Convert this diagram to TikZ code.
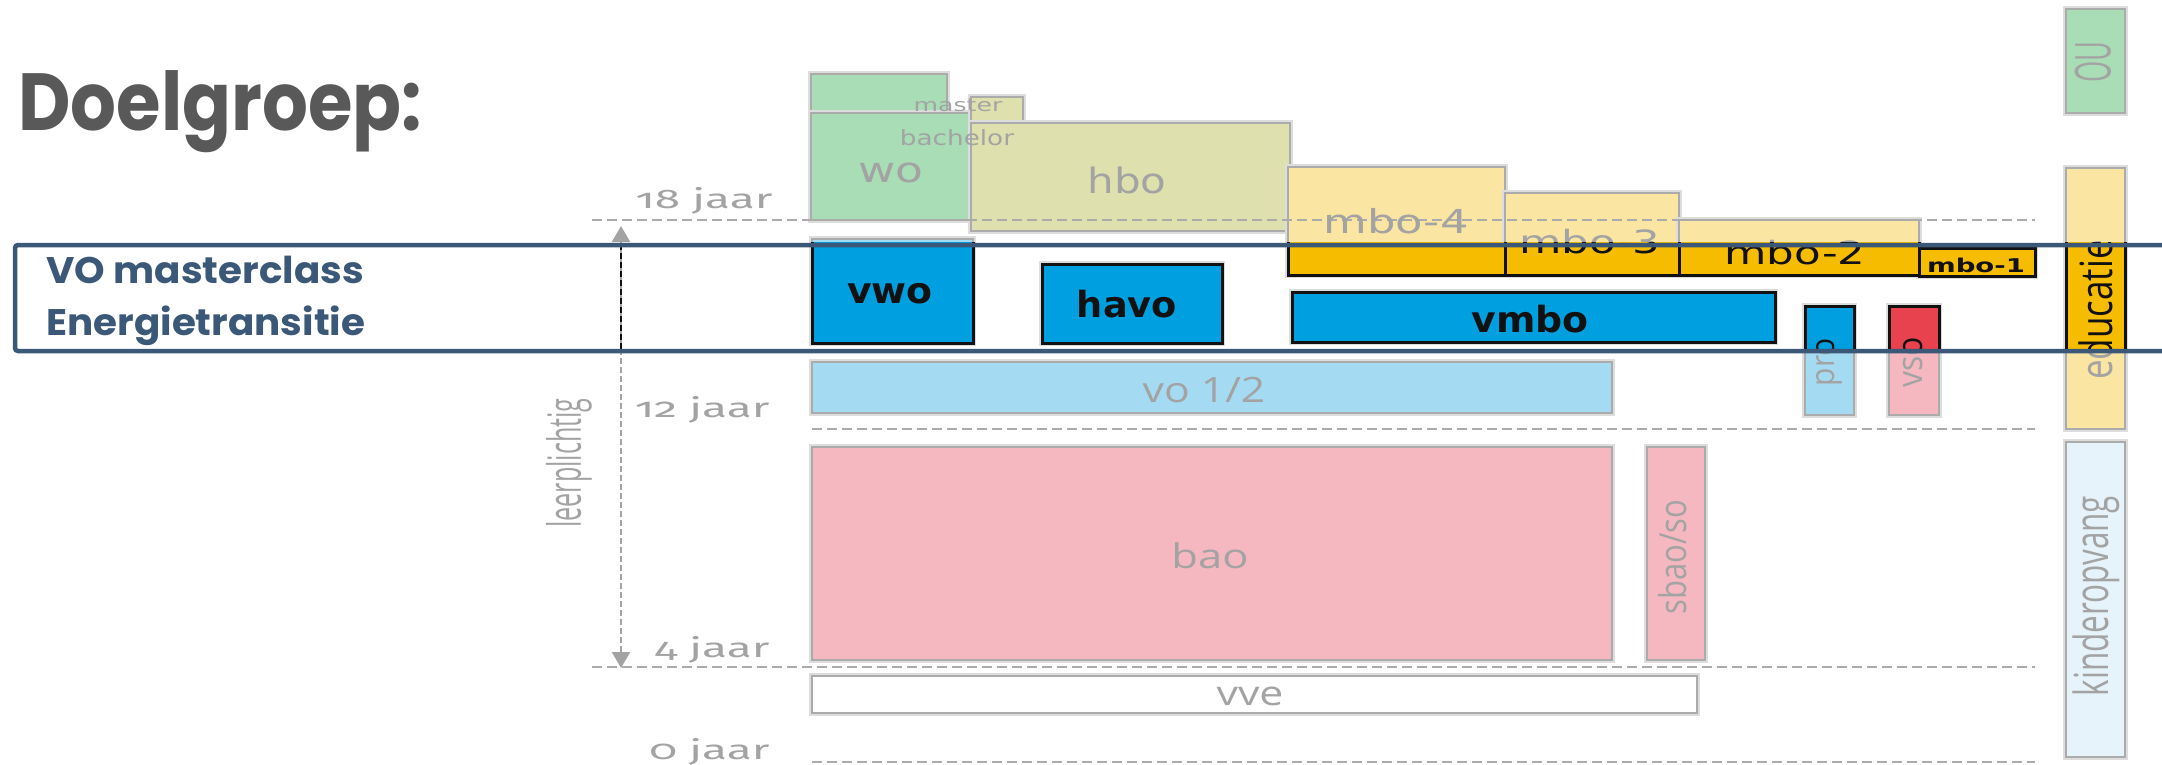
\documentclass[tikz,border=0pt]{standalone}
\usepackage{fontspec}
\setmainfont{DejaVu Sans}
\newfontfamily\popfont{Poppins}
\newfontfamily\opfont{Open Sans}
\newfontfamily\agefont{Fira Sans}[Numbers=OldStyle]
\usetikzlibrary{arrows.meta}
\definecolor{framec}{HTML}{3B5878}
\definecolor{titlec}{HTML}{595959}
\definecolor{woc}{HTML}{A8DDB6}
\definecolor{hboc}{HTML}{DEE1AE}
\definecolor{mboc}{HTML}{FBE5A2}
\definecolor{mbovc}{HTML}{F5BC00}
\definecolor{bluevc}{HTML}{009FDF}
\definecolor{bluefc}{HTML}{A5DBF2}
\definecolor{pinkc}{HTML}{F5B8C0}
\definecolor{redvc}{HTML}{E8424F}
\definecolor{kinderc}{HTML}{E6F3FA}
\definecolor{edgec}{HTML}{ABABAB}
\definecolor{haloc}{HTML}{DDDDDD}
\definecolor{labelc}{HTML}{A3A3A3}
\definecolor{darkc}{HTML}{111111}
\newcommand\fz[1]{\fontsize{#1}{#1}\selectfont}
\newcommand\hs[2]{\scalebox{#1}[1]{#2}}
\newcommand\vs[3]{\scalebox{#1}[#2]{#3}}
\begin{document}
\begin{tikzpicture}[x=0.5pt,y=-0.5pt,
  fadedbox/.style={draw=edgec,line width=1.25pt,preaction={draw=haloc,line width=3pt}},
  vividbox/.style={draw=darkc,line width=1.5pt},
  ageline/.style={draw=edgec,line width=1.25pt,dash pattern=on 5pt off 2.5pt},
  lbl/.style={text=labelc,inner sep=0pt},
  vlbl/.style={text=darkc,inner sep=0pt},
  agelbl/.style={text=labelc,inner sep=0pt,anchor=base east},
  framebox/.style={draw=framec,line width=2.25pt,rounded corners=1.5pt},
  frametext/.style={text=framec,inner sep=0pt,anchor=base west}]
\useasboundingbox (0,0) rectangle (2162,765);
\fill[white] (0,0) rectangle (2162,765);

% ---------- faded layer ----------
\path[fadedbox,fill=woc] (811,74) rectangle (947,113);
\path[fadedbox,fill=woc] (811,113) rectangle (971,220);
\path[fadedbox,fill=hboc] (971,97) rectangle (1023,123);
\path[fadedbox,fill=hboc] (971,123) rectangle (1290,231);
\path[fadedbox,fill=mboc] (1288,167) rectangle (1505,275);
\path[fadedbox,fill=mboc] (1505,193) rectangle (1679,275);
\path[fadedbox,fill=mboc] (1679,220) rectangle (1919,275);
\path[fadedbox,fill=mboc] (1919,248) rectangle (2035,276);
\path[fadedbox,fill=bluefc] (812,239) rectangle (973,343);
\path[fadedbox,fill=bluefc] (1042,264) rectangle (1222,343);
\path[fadedbox,fill=bluefc] (1292,292) rectangle (1775,342);
\path[fadedbox,fill=bluefc] (1805,306) rectangle (1854,415);
\path[fadedbox,fill=pinkc] (1889,306) rectangle (1939,415);
\path[fadedbox,fill=bluefc] (812,362) rectangle (1612,413);
\path[fadedbox,fill=pinkc] (812,447) rectangle (1612,660);
\path[fadedbox,fill=pinkc] (1647,447) rectangle (1705,660);
\path[fadedbox,fill=white] (812,676) rectangle (1697,713);
\path[fadedbox,fill=woc] (2066,9) rectangle (2125,113);
\path[fadedbox,fill=mboc] (2066,168) rectangle (2125,429);
\path[fadedbox,fill=kinderc] (2066,442) rectangle (2125,757);

% age lines
\coordinate (l18a) at (592,220); \coordinate (l18b) at (2035,220);
\coordinate (l12a) at (812,429); \coordinate (l12b) at (2035,429);
\coordinate (l4a) at (592,667);  \coordinate (l4b) at (2035,667);
\coordinate (l0a) at (812,762);  \coordinate (l0b) at (2035,762);
\draw[ageline] (l18a) -- (l18b);
\draw[ageline] (l12a) -- (l12b);
\draw[ageline] (l4a) -- (l4b);
\draw[ageline] (l0a) -- (l0b);

% age labels
\node[agelbl] (a18) at (773,208) {\agefont\fz{13.5pt}\hs{1.7}{18 jaar}};
\node[agelbl] (a12) at (770,417) {\agefont\fz{13.5pt}\hs{1.7}{12 jaar}};
\node[agelbl] (a4) at (770,657) {\agefont\fz{13.5pt}\hs{1.7}{4 jaar}};
\node[agelbl] (a0) at (770,759) {\agefont\fz{13.5pt}\hs{1.7}{0 jaar}};

% leerplicht arrow
\coordinate (ltop) at (621,226);
\coordinate (lbot) at (621,668);
\draw[draw=labelc,line width=1.1pt,dash pattern=on 3pt off 1.5pt,
  {Triangle[width=9pt,length=8pt,fill=labelc]}-{Triangle[width=9pt,length=8pt,fill=labelc]}] (ltop) -- (lbot);
\node[lbl,rotate=90] (leer) at (569,463) {\opfont\fz{17pt}\vs{0.74}{1.35}{leerplichtig}};

% faded labels
\node[lbl,anchor=base] (master) at (958,112) {\fz{9pt}\hs{1.4}{master}};
\node[lbl,anchor=base] (bachelor) at (957,146) {\fz{10.5pt}\hs{1.25}{bachelor}};
\node[lbl,anchor=base] (wo) at (891,182) {\fz{17.5pt}\hs{1.3}{wo}};
\node[lbl,anchor=base] (hbo) at (1127,193) {\fz{17.5pt}\hs{1.2}{hbo}};
\node[lbl,anchor=base] (mbo4) at (1396,233) {\fz{16.5pt}\hs{1.36}{mbo-4}};
\node[lbl,anchor=base] (mbo3f) at (1590,253) {\fz{16pt}\hs{1.36}{mbo-3}};
\node[lbl,anchor=base] (mbo2f) at (1795,264) {\fz{16pt}\hs{1.36}{mbo-2}};
\node[lbl,anchor=base] (vo12) at (1204,402) {\opfont\fz{17.5pt}\hs{1.22}{vo 1/2}};
\node[lbl,anchor=base] (bao) at (1210,568) {\opfont\fz{17pt}\hs{1.28}{bao}};
\node[lbl,anchor=base] (vve) at (1250,705) {\opfont\fz{17pt}\hs{1.26}{vve}};
\node[lbl,rotate=90] (sbao) at (1673,557) {\opfont\fz{15.5pt}\vs{1}{1.2}{sbao/so}};
\node[lbl,rotate=90] (prof) at (1829,362) {\opfont\fz{15pt}\vs{1}{1.1}{pro}};
\node[lbl,rotate=90] (vsof) at (1913,362) {\opfont\fz{16pt}\vs{1}{1.1}{vso}};
\node[lbl,rotate=90] (educf) at (2096,310) {\opfont\fz{17.5pt}\vs{1}{1.27}{educatie}};
\node[lbl,rotate=90] (ou) at (2093,62) {\opfont\fz{19.5pt}\vs{0.7}{1.27}{OU}};
\node[lbl,rotate=90] (kinder) at (2096,596) {\opfont\fz{18.5pt}\vs{0.85}{1.27}{kinderopvang}};

% ---------- vivid layer (inside the window) ----------
\begin{scope}
\clip (0,242) rectangle (2162,351);
\path[vividbox,fill=mbovc] (1288,167) rectangle (1505,275);
\path[vividbox,fill=mbovc] (1505,193) rectangle (1679,275);
\path[vividbox,fill=mbovc] (1679,220) rectangle (1919,275);
\path[vividbox,fill=mbovc] (1919,248) rectangle (2035,276);
\path[vividbox,fill=bluevc] (812,239) rectangle (973,343);
\path[vividbox,fill=bluevc] (1042,264) rectangle (1222,343);
\path[vividbox,fill=bluevc] (1292,292) rectangle (1775,342);
\path[vividbox,fill=bluevc] (1805,306) rectangle (1854,415);
\path[vividbox,fill=redvc] (1889,306) rectangle (1939,415);
\path[vividbox,fill=mbovc] (2066,168) rectangle (2125,429);
\draw[draw=darkc,line width=1.2pt,dash pattern=on 3pt off 1.5pt] (ltop) -- (lbot);
\node[vlbl,anchor=base] (vwo) at (890,303) {\bfseries\fz{18pt}\hs{1.05}{vwo}};
\node[vlbl,anchor=base] (havo) at (1127,317) {\bfseries\fz{18pt}\hs{1.02}{havo}};
\node[vlbl,anchor=base] (vmbo) at (1530,332) {\bfseries\fz{18pt}\hs{1.05}{vmbo}};
\node[vlbl,anchor=base] (mbo3v) at (1590,253) {\fz{16pt}\hs{1.36}{mbo-3}};
\node[vlbl,anchor=base] (mbo2v) at (1795,264) {\fz{16pt}\hs{1.36}{mbo-2}};
\node[vlbl,anchor=base] (mbo1) at (1976,272) {\bfseries\fz{9.5pt}\hs{1.45}{mbo-1}};
\node[vlbl,rotate=90] (prov) at (1829,362) {\opfont\fz{15pt}\vs{1}{1.1}{pro}};
\node[vlbl,rotate=90] (vsov) at (1913,362) {\opfont\fz{16pt}\vs{1}{1.1}{vso}};
\node[vlbl,rotate=90] (educv) at (2096,310) {\opfont\fz{17.5pt}\vs{1}{1.27}{educatie}};
\end{scope}

% ---------- highlight frame and texts ----------
\draw[framebox] (15,245) rectangle (2200,351);
\node[frametext] (vo1) at (46,283) {\popfont\bfseries\fz{18.5pt}\hs{1.05}{VO masterclass}};
\node[frametext] (vo2) at (46,335) {\popfont\bfseries\fz{18.5pt}\hs{1.05}{Energietransitie}};
\node[text=titlec,inner sep=0pt,anchor=base west] (title) at (18,131) {\popfont\bfseries\fz{40.5pt}\hs{0.89}{Doelgroep:}};
\end{tikzpicture}
\end{document}
